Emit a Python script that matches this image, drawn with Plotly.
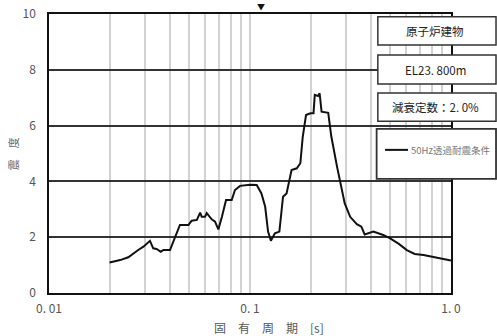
import plotly.graph_objects as go

# Floor response spectrum: natural period [s] vs. seismic intensity
period = [0.0200, 0.0226, 0.0248, 0.0262, 0.0278, 0.0295, 0.0318, 0.0330, 0.0343,
          0.0360, 0.0371, 0.0400, 0.0416, 0.0429, 0.0448, 0.0494, 0.0513, 0.0544,
          0.0565, 0.0575, 0.0597, 0.0609, 0.0645, 0.0670, 0.0696, 0.0725, 0.0760,
          0.0811, 0.0842, 0.0892, 0.1000, 0.1080, 0.1140, 0.1190, 0.1230, 0.1270,
          0.1330, 0.1400, 0.1460, 0.1520, 0.1610, 0.1710, 0.1780, 0.1830, 0.1900,
          0.2000, 0.2070, 0.2100, 0.2180, 0.2220, 0.2270, 0.2450, 0.2540, 0.2710,
          0.2850, 0.2960, 0.3150, 0.3400, 0.3580, 0.3720, 0.4110, 0.4600, 0.4980,
          0.5500, 0.6030, 0.6600, 0.7300, 0.8000, 0.8800, 1.0000]
intensity = [1.09, 1.18, 1.28, 1.42, 1.54, 1.66, 1.87, 1.60, 1.58,
             1.48, 1.54, 1.54, 1.84, 2.14, 2.44, 2.44, 2.59, 2.62,
             2.88, 2.73, 2.73, 2.86, 2.64, 2.56, 2.28, 2.73, 3.33,
             3.33, 3.69, 3.84, 3.88, 3.87, 3.57, 3.09, 2.20, 1.87,
             2.14, 2.20, 3.45, 3.57, 4.41, 4.47, 4.65, 5.60, 6.38,
             6.44, 6.44, 7.10, 7.06, 7.16, 6.50, 6.46, 5.60, 4.53,
             3.81, 3.21, 2.73, 2.47, 2.38, 2.10, 2.20, 2.08, 1.96,
             1.76, 1.54, 1.40, 1.36, 1.30, 1.26, 1.16]

# Gridline positions on the period axis; only decades carry a label
x_grid = [0.01, 0.02, 0.03, 0.04, 0.05, 0.06, 0.07, 0.08, 0.09,
          0.1, 0.2, 0.3, 0.4, 0.5, 0.6, 0.7, 0.8, 0.9, 1.0]
x_labels = {0.01: "0. 01", 0.1: "0. 1", 1.0: "1. 0"}
y_ticks = [0, 2, 4, 6, 8, 10]

info_lines = ["原子炉建物", "EL23. 800m", "減衰定数：2. 0%"]
series_name = "50Hz透過耐震条件"

FONT = "Noto Sans CJK JP"

fig = go.Figure()
fig.add_trace(go.Scatter(x=period, y=intensity, mode="lines", name=series_name,
                         line=dict(color="#111111", width=2), showlegend=False))

fig.update_layout(
    width=497, height=336,
    margin=dict(l=49, r=46, t=14, b=43),
    paper_bgcolor="white", plot_bgcolor="white",
    font=dict(family=FONT, color="#555555", size=12),
    xaxis=dict(type="log", range=[-2, 0], tickvals=x_grid,
               ticktext=[x_labels.get(v, "") for v in x_grid],
               showgrid=True, gridcolor="#d2d2d2", gridwidth=1.5,
               showline=True, linecolor="#111111", linewidth=1.5,
               mirror=True, ticks="", ticklabelstandoff=4, zeroline=False,
               automargin=False),
    yaxis=dict(range=[0, 10], tickvals=y_ticks, showgrid=True, gridcolor="#333333",
               gridwidth=1.5, showline=True, linecolor="#111111", linewidth=1.5,
               mirror=True, ticks="", ticklabelstandoff=9, zeroline=False,
               automargin=False),
)

# Axis titles and top marker
fig.add_annotation(text="震　度", x=-0.09, y=0.50, xref="paper", yref="paper",
                   xanchor="center", yanchor="middle",
                   textangle=-90, showarrow=False,
                   font=dict(family=FONT, size=11, color="#666666"))
fig.add_annotation(text="固　有　周　期　[s]", x=0.547, y=-0.125, xref="paper",
                   yref="paper", xanchor="center", yanchor="middle", showarrow=False,
                   font=dict(family=FONT, size=12, color="#555555"))
fig.add_annotation(text="▼", x=0.527, y=1.0, xref="paper", yref="paper",
                   xanchor="center", yanchor="bottom", yshift=1, borderpad=0,
                   showarrow=False, font=dict(size=8, color="#111111"))

# Information boxes on the right
box_x0, box_x1 = 0.818, 1.112
boxes = [(0.889, 0.990), (0.749, 0.853), (0.616, 0.717)]
for (y0, y1), label in zip(boxes, info_lines):
    fig.add_shape(type="rect", xref="paper", yref="paper", x0=box_x0, x1=box_x1,
                  y0=y0, y1=y1, fillcolor="white",
                  line=dict(color="#333333", width=1.5))
    fig.add_annotation(text=label, x=(box_x0 + box_x1) / 2 - 0.004, y=(y0 + y1) / 2,
                       xref="paper", yref="paper", xanchor="center", yanchor="middle",
                       showarrow=False,
                       font=dict(family=FONT, size=11.5, color="#222222"))

# Legend box
fig.add_shape(type="rect", xref="paper", yref="paper", x0=0.815, x1=1.112,
              y0=0.409, y1=0.588, fillcolor="white",
              line=dict(color="#333333", width=1.8))
fig.add_shape(type="line", xref="paper", yref="paper", x0=0.836, x1=0.893,
              y0=0.513, y1=0.513, line=dict(color="#111111", width=2))
fig.add_annotation(text=series_name, x=0.895, y=0.513, xref="paper", yref="paper",
                   xanchor="left", yanchor="middle", showarrow=False,
                   font=dict(family=FONT, size=9.5, color="#777777"))

fig.write_html("out.html")
